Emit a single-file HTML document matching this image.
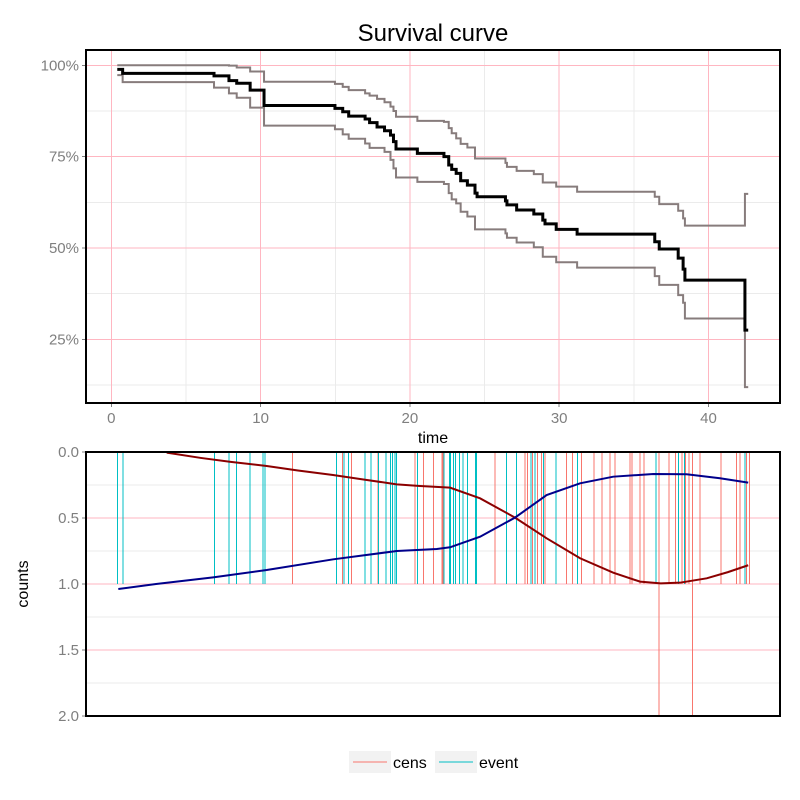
<!DOCTYPE html>
<html><head><meta charset="utf-8"><style>
body{margin:0;background:#fff;}
svg{display:block;font-family:"Liberation Sans",Arial,sans-serif;}
</style></head><body>
<svg id="c" width="800" height="800" xmlns="http://www.w3.org/2000/svg"></svg>
<script>
// ---- data ----
const stepTimes=[0.4,0.76,6.88,7.88,8.4,9.3,10.23,14.98,15.5,15.9,17.0,17.3,17.8,18.3,18.7,18.9,19.07,20.5,22.28,22.6,22.8,23.1,23.4,23.85,24.36,24.5,26.4,26.5,27.15,28.3,28.9,29.05,29.8,31.2,36.4,36.7,37.97,38.3,38.42,42.44];
const survVals=[98.9,97.8,97.1,95.8,95.1,93.2,89.0,88.2,87.3,86.1,85.3,84.3,83.1,82.1,80.9,79.1,77.1,75.9,75.0,72.7,71.5,70.4,68.4,67.2,65.0,64.0,62.9,61.8,60.4,59.3,57.6,56.6,55.1,53.8,51.7,49.7,47.2,44.2,41.2,27.5];
const upperVals=[100,100,100,99.9,99.4,98.3,95.5,94.9,94.1,93.2,92.3,91.7,90.8,89.9,88.7,87.5,85.9,84.8,84.5,82.8,81.4,80.0,78.5,77.5,74.5,74.5,73.3,72.2,71.1,70.2,67.9,67.9,66.8,65.4,64.0,62.0,60.2,58.1,56.1,64.8];
const lowerVals=[97.3,95.4,93.9,92.3,91.1,88.4,83.5,82.5,81.1,79.9,78.6,77.4,77.4,76.3,74.1,71.8,69.3,68.1,67.5,65.0,63.3,62.2,59.9,58.6,55.1,55.1,54.0,52.8,51.5,50.2,47.6,47.6,46.1,44.6,42.3,39.9,37.1,35.0,30.7,11.9];
const endTime=42.66;
const eventTimes=[0.4,0.8,6.9,7.9,8.4,9.3,10.15,10.3,15.1,15.6,15.9,17.0,17.4,17.9,18.4,18.7,18.85,19.0,19.1,20.5,22.28,22.64,22.73,22.91,23.04,23.31,23.54,23.87,24.4,24.46,26.48,27.15,28.11,28.37,28.94,29.79,31.21,36.48,37.98,38.38,42.44];
const eventCounts=eventTimes.map(()=>1);
const censTimes=[12.12,15.47,16.10,17.88,20.34,20.90,21.57,22.15,22.22,25.70,27.71,27.89,28.20,28.53,28.83,29.05,30.50,30.90,31.51,32.33,32.85,33.40,33.74,34.74,34.86,35.41,35.68,36.70,37.37,37.80,38.24,38.47,38.71,38.94,39.43,40.84,41.89,42.11,42.56,42.73];
const censCounts=[1,1,1,1,1,1,1,1,1,1,1,1,1,1,1,1,1,1,1,1,1,1,1,1,1,1,1,2,1,1,1,1,1,2,1,1,1,1,1,1];
const censSmoothT=[3.71,6,8,10.41,12.5,14.85,17,19.12,20.68,22.69,24.7,27.04,29.16,31.4,33.62,35.41,36.8,38.09,39.88,41.3,42.66];
const censSmoothV=[0.005,0.045,0.075,0.106,0.14,0.174,0.21,0.245,0.258,0.27,0.351,0.497,0.654,0.805,0.914,0.982,0.995,0.99,0.957,0.91,0.858];
const eventSmoothT=[0.47,3,6.82,10.41,14.87,19.12,21.8,22.69,24.7,27.04,29.16,31.4,33.62,36.3,38.53,40.77,42.66];
const eventSmoothV=[1.038,1.0,0.95,0.894,0.813,0.75,0.735,0.722,0.642,0.497,0.326,0.237,0.187,0.167,0.169,0.199,0.232];
const xTicks=[0,10,20,30,40];
const yTicksTop=[25,50,75,100];
const yTicksBot=[0,0.5,1,1.5,2];

// ---- scales ----
const X=t=>111.3+t*14.93;
const Yt=v=>65.3+(100-v)*3.653;
const Yb=v=>452+v*132;
const NS="http://www.w3.org/2000/svg";
const svg=document.getElementById('c');
function mk(tag,attrs,parent){const e=document.createElementNS(NS,tag);for(const k in attrs)e.setAttribute(k,attrs[k]);(parent||svg).appendChild(e);return e;}
const CR={'shape-rendering':'crispEdges'};
function ln(a,p){return mk('line',Object.assign({},CR,a),p);}

// ---- top panel ----
const gT=mk('g',{});


for(let v=12.5;v<=100;v+=25){const l=ln({x1:86,x2:780,y1:Yt(v),y2:Yt(v),stroke:'#ebebeb','stroke-width':1},gT);}
for(let t=5;t<=40;t+=10){const l=ln({x1:X(t),x2:X(t),y1:50,y2:403,stroke:'#ebebeb','stroke-width':1},gT);}
yTicksTop.forEach(v=>{const l=ln({x1:86,x2:780,y1:Yt(v),y2:Yt(v),stroke:'#ffb6c1','stroke-width':1},gT);
 const tk=ln({x1:82,x2:86,y1:Yt(v),y2:Yt(v),stroke:'#7f7f7f'},gT);
 const tx=mk('text',{x:79,y:Yt(v)+5,'text-anchor':'end','font-size':15,fill:'#7f7f7f'},gT);tx.textContent=v+'%';});
xTicks.forEach(t=>{const l=ln({x1:X(t),x2:X(t),y1:50,y2:403,stroke:'#ffb6c1','stroke-width':1},gT);
 const tk=ln({x1:X(t),x2:X(t),y1:403,y2:407,stroke:'#7f7f7f'},gT);
 const tx=mk('text',{x:X(t),y:423,'text-anchor':'middle','font-size':15,fill:'#7f7f7f'},gT);tx.textContent=t;});
function stepPath(vals){let d='M'+X(stepTimes[0])+','+Yt(vals[0]);for(let i=1;i<stepTimes.length;i++){d+=' H'+X(stepTimes[i])+' V'+Yt(vals[i]);}d+=' H'+X(endTime);return d;}
const pu=mk('path',{d:stepPath(upperVals),fill:'none',stroke:'#877c7c','stroke-width':2},gT);
const pl=mk('path',{d:stepPath(lowerVals),fill:'none',stroke:'#877c7c','stroke-width':2},gT);
const ps=mk('path',{d:stepPath(survVals),fill:'none',stroke:'#000','stroke-width':3},gT);
const bT=mk('rect',{x:86,y:50,width:694,height:353,fill:'none',stroke:'#000','stroke-width':2},gT);
const ti=mk('text',{x:433,y:41,'text-anchor':'middle','font-size':24,fill:'#000'});ti.textContent='Survival curve';
const xl=mk('text',{x:433,y:443,'text-anchor':'middle','font-size':16,fill:'#000'});xl.textContent='time';

// ---- bottom panel ----
const gB=mk('g',{});


[0.25,0.75,1.25,1.75].forEach(v=>{const l=ln({x1:86,x2:780,y1:Yb(v),y2:Yb(v),stroke:'#ebebeb'},gB);});
yTicksBot.forEach(v=>{const l=ln({x1:86,x2:780,y1:Yb(v),y2:Yb(v),stroke:'#ffb6c1'},gB);
 const tk=ln({x1:82,x2:86,y1:Yb(v),y2:Yb(v),stroke:'#7f7f7f'},gB);
 const tx=mk('text',{x:79,y:Yb(v)+5,'text-anchor':'end','font-size':15,fill:'#7f7f7f'},gB);tx.textContent=v.toFixed(1);});
censTimes.forEach((t,i)=>{const l=ln({x1:X(t),x2:X(t),y1:Yb(0),y2:Yb(censCounts[i]),stroke:'#f8766d','stroke-width':1},gB);});
eventTimes.forEach((t,i)=>{const l=ln({x1:X(t),x2:X(t),y1:Yb(0),y2:Yb(eventCounts[i]),stroke:'#00bfc4','stroke-width':1},gB);});
function linePath(ts,vs){return ts.map((t,i)=>(i?'L':'M')+X(t)+','+Yb(vs[i])).join(' ');}
const cr=mk('path',{d:linePath(censSmoothT,censSmoothV),fill:'none',stroke:'#8b0000','stroke-width':2},gB);
const cb=mk('path',{d:linePath(eventSmoothT,eventSmoothV),fill:'none',stroke:'#00008b','stroke-width':2},gB);
const bB=mk('rect',{x:86,y:452,width:694,height:264,fill:'none',stroke:'#000','stroke-width':2},gB);
const yl=mk('text',{x:0,y:0,'text-anchor':'middle','font-size':16,fill:'#000',transform:'translate(28,584) rotate(-90)'});yl.textContent='counts';

// ---- legend ----
const lg=mk('g',{});


[['cens','#f8766d',349],['event','#00bfc4',435]].forEach(([lab,col,x])=>{
 const r=mk('rect',{x:x,y:751,width:42,height:22,fill:'#f2f2f2'},lg);
 const l=ln({x1:x+4,x2:x+38,y1:762,y2:762,stroke:col,'stroke-width':1},lg);
 const t=mk('text',{x:x+44,y:768,'font-size':16,fill:'#000'},lg);t.textContent=lab;
});
</script>
</body></html>
